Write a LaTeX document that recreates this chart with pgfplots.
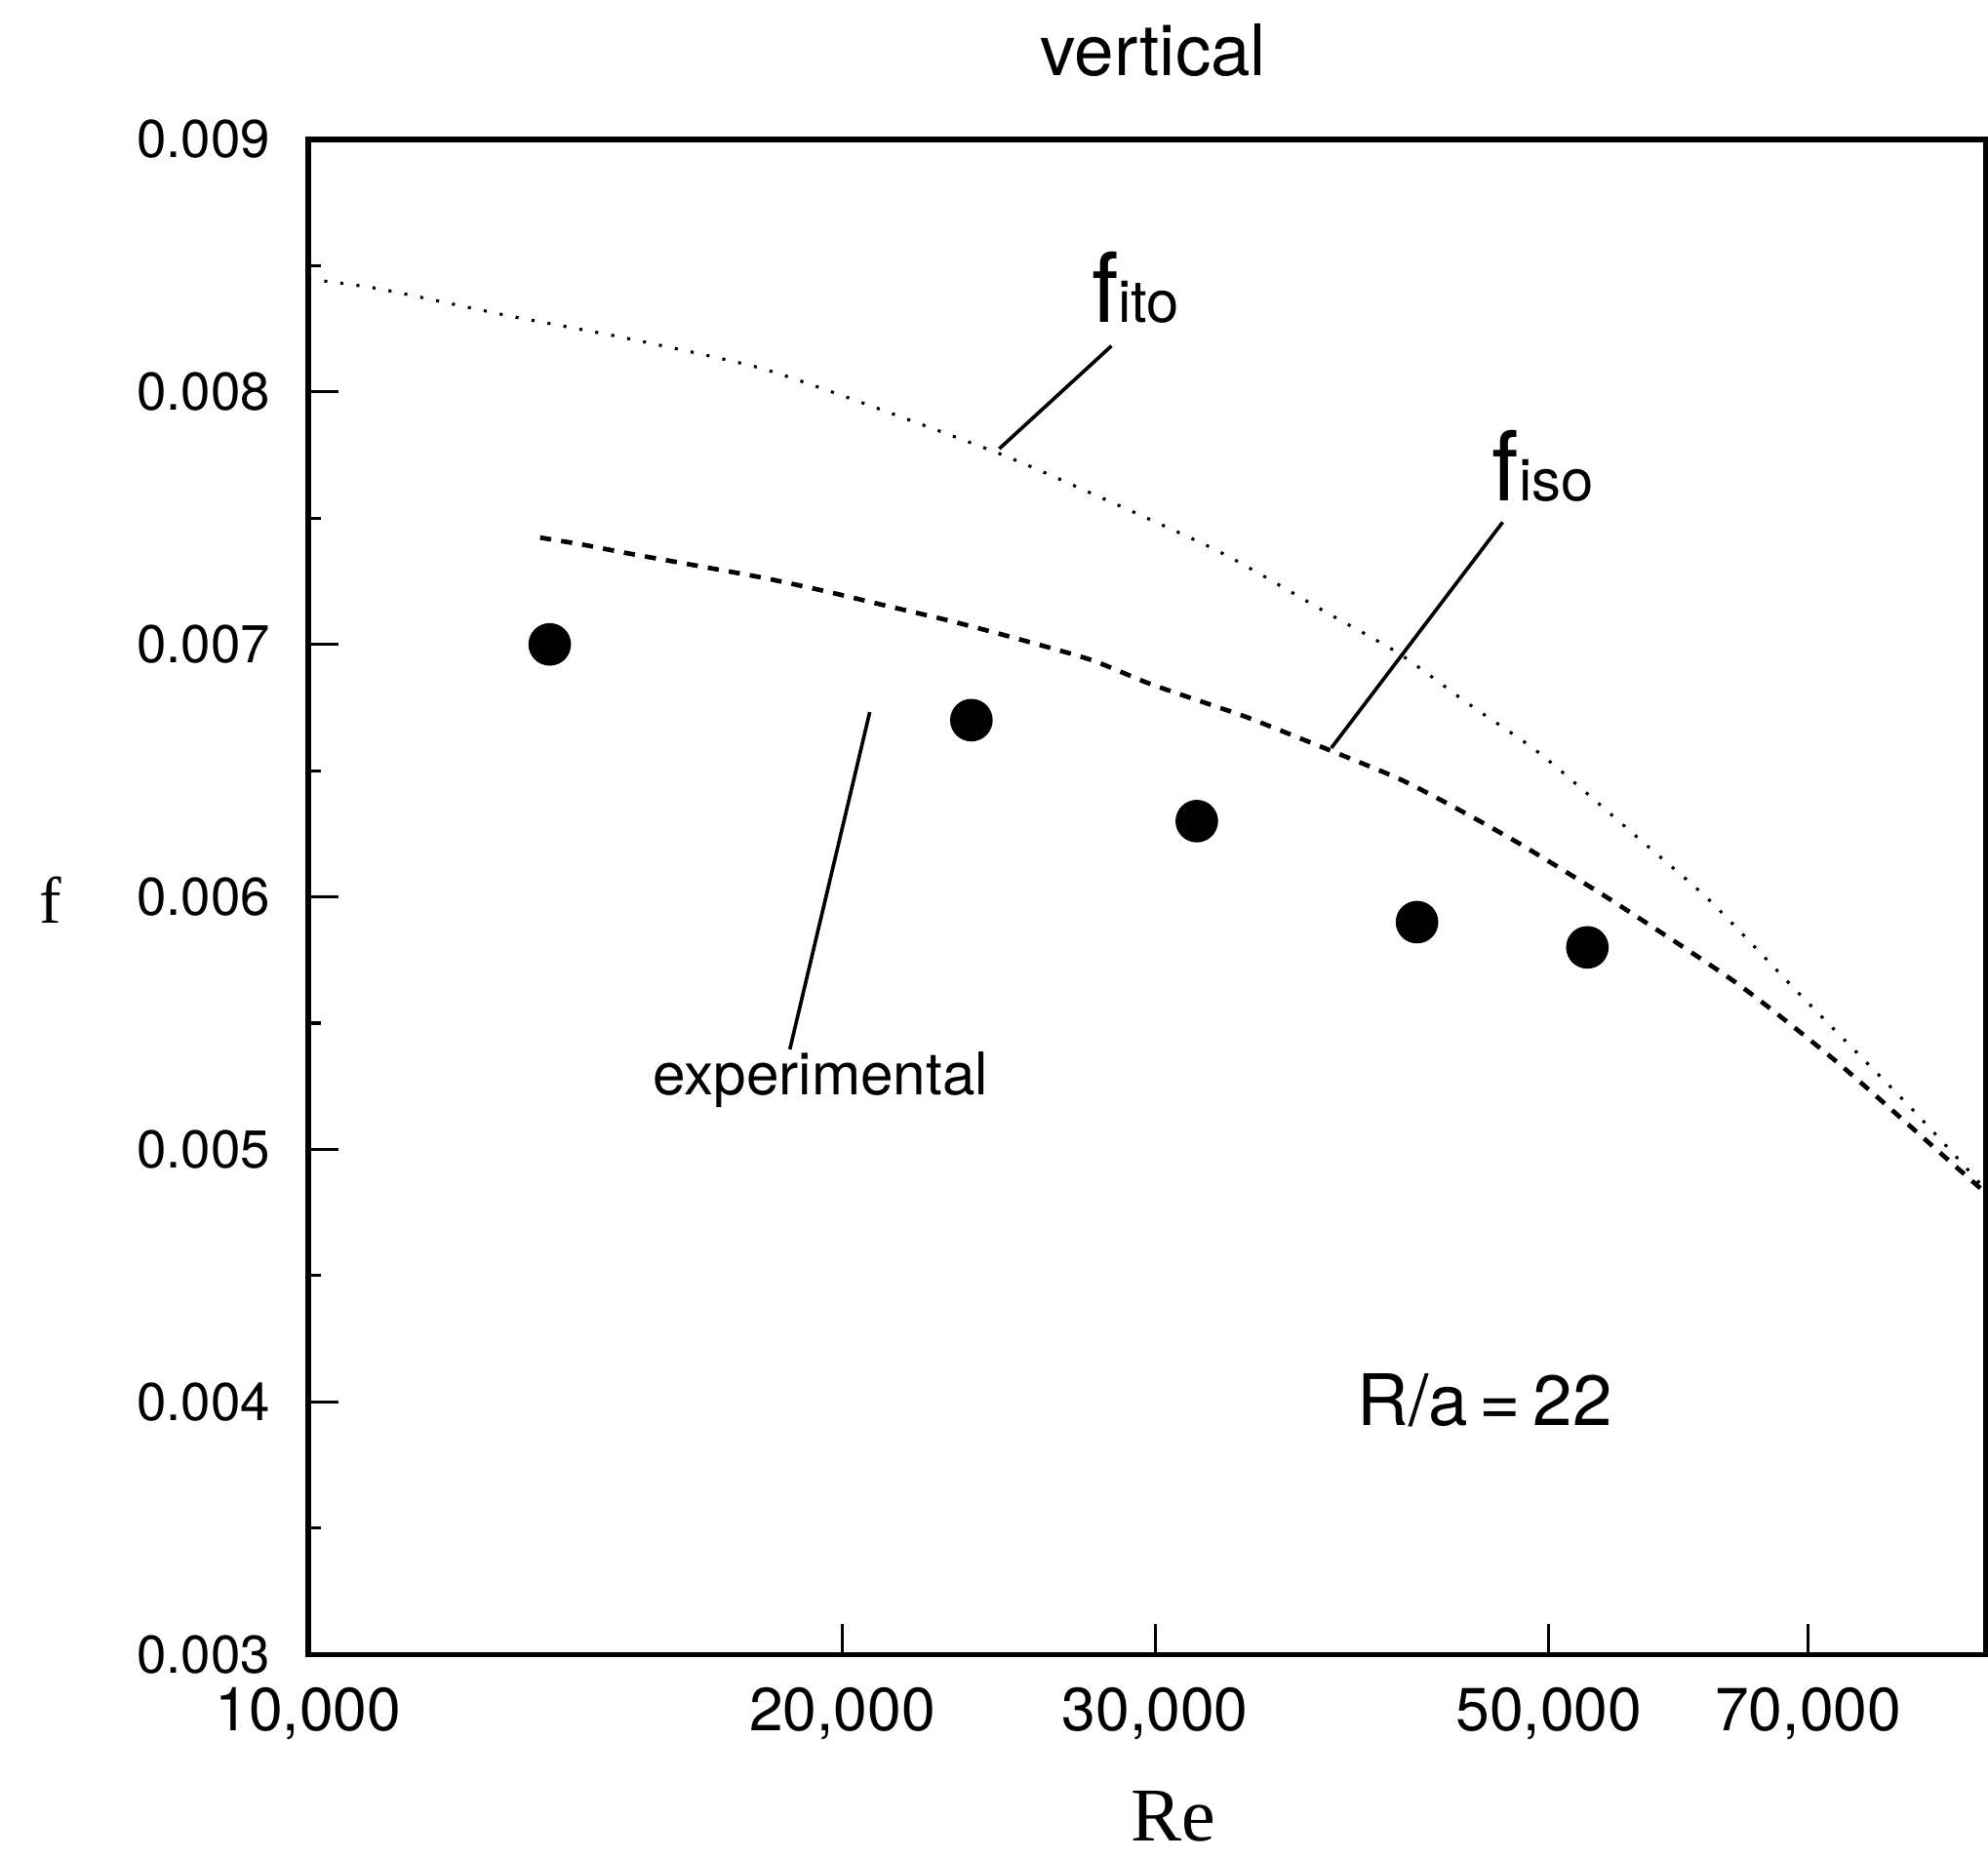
\documentclass[border=0pt]{standalone}
\usepackage{pgfplots}
\pgfplotsset{compat=1.18}
\usepackage{fontspec}
\setmainfont{TeX Gyre Heros}
\newfontfamily\seriffont{Liberation Serif}
\begin{document}
\begin{tikzpicture}
\begin{axis}[
  scale only axis, width=330.75pt, height=298.75pt,
  xmode=log, xmin=10000, xmax=88100, ymin=0.003, ymax=0.009,
  clip=false,
  axis line style={line width=1pt},
  xtick={10000,20000,30000,50000,70000},
  xticklabels={{10,000},{20,000},{30,000},{50,000},{70,000}},
  ytick={0.003,0.004,0.005,0.006,0.007,0.008,0.009},
  yticklabels={0.003,0.004,0.005,0.006,0.007,0.008,0.009},
  minor ytick={0.0035,0.0045,0.0055,0.0065,0.0075,0.0085},
  xminorticks=false,
  scaled y ticks=false,
  tick pos=left, tick align=inside,
  major tick length=6pt, minor tick length=2.5pt,
  tick style={black, line width=0.6pt},
  xticklabel style={font=\fontsize{12}{12}\selectfont, yshift=-3pt},
  yticklabel style={font=\fontsize{10.5}{10.5}\selectfont, xshift=-4pt},
  /pgf/number format/assume math mode=true,
]
% f_ito (dotted)
\addplot[black, line width=0.6pt, dash pattern=on 0.6pt off 2.6pt, smooth, tension=0.4] coordinates {
(10000,0.008447) (10973,0.008408) (12936,0.008303) (15106,0.008213) (17926,0.008097)
(20462,0.007960) (24360,0.007763) (26670,0.007646) (32510,0.007372) (37350,0.007132)
(41160,0.006964) (45040,0.006765) (49480,0.006565) (56230,0.006229) (61660,0.005983)
(68850,0.005632) (74020,0.005406) (79970,0.005165) (85110,0.004959) (88100,0.004840)
};
% f_iso (dashed)
\addplot[black, line width=0.9pt, dash pattern=on 2.2pt off 2pt, smooth, tension=0.4] coordinates {
(13510,0.007423) (14280,0.007395) (15080,0.007363) (16670,0.007308) (18070,0.007263)
(19580,0.007210) (21170,0.007153) (22940,0.007095) (24870,0.007030) (27570,0.006940)
(29800,0.006844) (32310,0.006759) (33900,0.006708) (37720,0.006578) (41160,0.006468)
(44100,0.006360) (48150,0.006210) (54330,0.005983) (63830,0.005657) (72680,0.005345)
(83440,0.004974) (88100,0.004828)
};
% experimental
\addplot[only marks, mark=*, mark size=4pt, black] coordinates {
(13680,0.0070) (23640,0.0067) (31670,0.0063) (42140,0.0059) (52560,0.0058)
};
% leaders
\draw[line width=0.7pt] (axis cs:28350,0.008182) -- (axis cs:24510,0.007775);
\draw[line width=0.7pt] (axis cs:47090,0.007484) -- (axis cs:37710,0.006590);
\draw[line width=0.7pt] (axis cs:20720,0.006732) -- (axis cs:18680,0.005396);
% labels
\node[anchor=base west, inner sep=0pt] at (axis cs:27590,0.008277)
  {{\fontsize{19}{19}\selectfont f}{\fontsize{11.5}{11.5}\selectfont ito}};
\node[anchor=base west, inner sep=0pt] at (axis cs:46390,0.007569)
  {{\fontsize{19}{19}\selectfont f}{\fontsize{11.5}{11.5}\selectfont iso}};
\node[inner sep=0pt, font=\fontsize{11.6}{11.6}\selectfont] at (axis cs:19440,0.005275) {experimental};
\node[inner sep=0pt, font=\fontsize{14}{14}\selectfont] at (axis cs:46010,0.004005) {R/a\,=\,22};
\node[anchor=base, inner sep=0pt, font=\fontsize{14}{14}\selectfont] at ([yshift=12.5pt]rel axis cs:0.504,1) {vertical};
\node[inner sep=0pt, font=\seriffont\fontsize{15}{15}\selectfont] at ([yshift=-32pt]rel axis cs:0.5155,0) {Re};
\node[inner sep=0pt, font=\seriffont\fontsize{13}{13}\selectfont] at ([xshift=-50.75pt]rel axis cs:0,0.498) {f};
\coordinate (sw) at (rel axis cs:0,0);
\coordinate (ne) at (rel axis cs:1,1);
\end{axis}
\path ([shift={(-60.75pt,-40.25pt)}]sw) rectangle ([shift={(0.5pt,27.5pt)}]ne);
\end{tikzpicture}
\end{document}
